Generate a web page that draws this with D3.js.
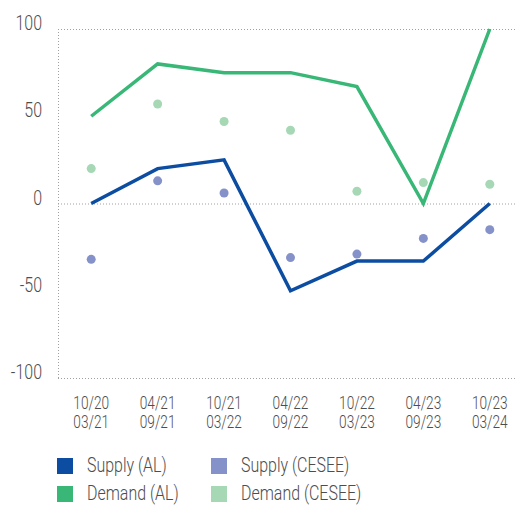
<!DOCTYPE html>
<html>
<head>
<meta charset="utf-8">
<script src="https://cdn.jsdelivr.net/npm/d3@7"></script>
<style>
  body { margin: 0; background: #fff; }
  svg text { font-family: Roboto, "Noto Sans", sans-serif; font-weight: 300; fill: #4d4d4d; }
</style>
</head>
<body>
<svg class="chart" width="516" height="506"></svg>
<script>
// periods (two lines each)
var periods = ["10/20|03/21", "04/21|09/21", "10/21|03/22", "04/22|09/22", "10/22|03/23", "04/23|09/23", "10/23|03/24"];
var supplyAL = [0, 20, 25, -50, -33, -33, 0];
var demandAL = [50, 80, 75, 75, 67, 0, 100];
var supplyCESEE = [-32, 13, 6, -31, -29, -20, -15];
var demandCESEE = [20, 57, 47, 42, 7, 12, 11];
var yTicks = [-100, -50, 0, 50, 100];
var gridValues = [-100, 0, 100];

var colors = {
    supplyAL: "#0c4da2",
    demandAL: "#38b776",
    supplyCESEE: "#8591c9",
    demandCESEE: "#a6d8b6"
};

var svg = d3.select(".chart");
var squeeze = 0.76; // condensed look

//text helper: narrow text by scaling x
function label(x, y, txt, size, anchor){
    return svg.append("text")
        .attr("transform", "translate(" + x + "," + y + ") scale(" + squeeze + ",1)")
        .attr("text-anchor", anchor || "start")
        .style("font-size", size + "px")
        .text(txt);
}

var left = 58, right = 523;
var xChart = d3.scalePoint()
    .domain(periods)
    .range([left, right])
    .padding(0.5);

var yChart = d3.scaleLinear()
    .domain([-100, 100])
    .range([378, 29]);

//gridlines
svg.selectAll(".grid")
    .data(gridValues)
    .enter()
    .append("line")
    .attr("x1", left)
    .attr("x2", 516)
    .attr("y1", function(d){ return yChart(d) + 0.5; })
    .attr("y2", function(d){ return yChart(d) + 0.5; })
    .attr("stroke", "#a0a0a0")
    .attr("stroke-width", 1)
    .attr("stroke-dasharray", "1,2");

//left dotted axis line
svg.append("line")
    .attr("x1", left + 0.5).attr("x2", left + 0.5)
    .attr("y1", yChart(100)).attr("y2", yChart(-100))
    .attr("stroke", "#a0a0a0")
    .attr("stroke-dasharray", "1,2");

//y labels
yTicks.forEach(function(d){
    label(42, yChart(d) + 1, d, 21, "end");
});

//x labels, two lines in one text
periods.forEach(function(d){
    var parts = d.split("|");
    var t = label(xChart(d), 409, "", 18, "middle");
    t.append("tspan").attr("x", 0).attr("y", 0).text(parts[0]);
    t.append("tspan").attr("x", 0).attr("y", 19).text(parts[1]);
});

var line = d3.line()
    .x(function(d, i){ return xChart(periods[i]); })
    .y(function(d){ return yChart(d); });

svg.append("path")
    .datum(demandAL)
    .attr("d", line)
    .attr("fill", "none")
    .attr("stroke", colors.demandAL)
    .attr("stroke-width", 3.5);

svg.append("path")
    .datum(supplyAL)
    .attr("d", line)
    .attr("fill", "none")
    .attr("stroke", colors.supplyAL)
    .attr("stroke-width", 3.5);

function dots(data, color){
    svg.append("g").selectAll("circle")
        .data(data)
        .enter()
        .append("circle")
        .attr("cx", function(d, i){ return xChart(periods[i]); })
        .attr("cy", function(d){ return yChart(d); })
        .attr("r", 4.5)
        .attr("fill", color);
}
dots(demandCESEE, colors.demandCESEE);
dots(supplyCESEE, colors.supplyCESEE);

//legend
var legend = [
    {name: "Supply (AL)", c: colors.supplyAL, x: 57, y: 466},
    {name: "Supply (CESEE)", c: colors.supplyCESEE, x: 211, y: 466},
    {name: "Demand (AL)", c: colors.demandAL, x: 57, y: 494},
    {name: "Demand (CESEE)", c: colors.demandCESEE, x: 211, y: 494}
];
legend.forEach(function(d){
    svg.append("rect")
        .attr("x", d.x).attr("y", d.y - 8)
        .attr("width", 16).attr("height", 16)
        .attr("fill", d.c);
    label(d.x + 30, d.y + 6, d.name, 21);
});
</script>
</body>
</html>
